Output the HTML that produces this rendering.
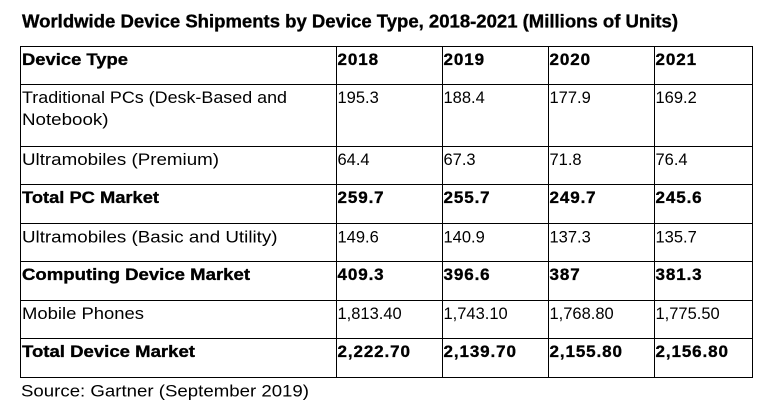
<!DOCTYPE html>
<html><head><meta charset="utf-8"><style>
html,body{margin:0;padding:0;background:#fff;}
svg{display:block;}
text{font-family:"Liberation Sans",Arial,sans-serif;fill:#000;}
.r{font-size:17px;}
.n{font-size:16.5px;}
.b{font-size:17px;font-weight:bold;stroke:#000;stroke-width:0.35px;}
.bn{font-size:17px;font-weight:bold;stroke:#000;stroke-width:0.35px;letter-spacing:0.9px;}
.t{font-size:18px;font-weight:bold;stroke:#000;stroke-width:0.35px;}
</style></head><body>
<svg width="775" height="411" viewBox="0 0 775 411" xmlns="http://www.w3.org/2000/svg">
<rect width="775" height="411" fill="#fff"/>
<text class="t" x="22" y="27.5" textLength="656" lengthAdjust="spacingAndGlyphs">Worldwide Device Shipments by Device Type, 2018-2021 (Millions of Units)</text>
<g stroke="#000" stroke-width="1" fill="none" shape-rendering="crispEdges">
<rect x="20.5" y="46.5" width="732" height="331"/>
<line x1="336.5" y1="46.5" x2="336.5" y2="377.5"/>
<line x1="442.5" y1="46.5" x2="442.5" y2="377.5"/>
<line x1="548.5" y1="46.5" x2="548.5" y2="377.5"/>
<line x1="654.5" y1="46.5" x2="654.5" y2="377.5"/>
<line x1="20.5" y1="84.5" x2="752.5" y2="84.5"/>
<line x1="20.5" y1="146.5" x2="752.5" y2="146.5"/>
<line x1="20.5" y1="184.5" x2="752.5" y2="184.5"/>
<line x1="20.5" y1="223.5" x2="752.5" y2="223.5"/>
<line x1="20.5" y1="261.5" x2="752.5" y2="261.5"/>
<line x1="20.5" y1="300.5" x2="752.5" y2="300.5"/>
<line x1="20.5" y1="338.5" x2="752.5" y2="338.5"/>
</g>
<!-- header -->
<text class="b" x="22" y="65" textLength="106" lengthAdjust="spacingAndGlyphs">Device Type</text>
<text class="bn" x="337.5" y="65">2018</text>
<text class="bn" x="443.5" y="65">2019</text>
<text class="bn" x="549.5" y="65">2020</text>
<text class="bn" x="655.5" y="65">2021</text>
<!-- row 2 -->
<text class="r" x="22" y="103" textLength="265" lengthAdjust="spacingAndGlyphs">Traditional PCs (Desk-Based and</text>
<text class="r" x="22" y="125" textLength="86.5" lengthAdjust="spacingAndGlyphs">Notebook)</text>
<text class="n" x="337.5" y="103">195.3</text>
<text class="n" x="443.5" y="103">188.4</text>
<text class="n" x="549.5" y="103">177.9</text>
<text class="n" x="655.5" y="103">169.2</text>
<!-- row 3 -->
<text class="r" x="22" y="165" textLength="197" lengthAdjust="spacingAndGlyphs">Ultramobiles (Premium)</text>
<text class="n" x="337.5" y="165">64.4</text>
<text class="n" x="443.5" y="165">67.3</text>
<text class="n" x="549.5" y="165">71.8</text>
<text class="n" x="655.5" y="165">76.4</text>
<!-- row 4 -->
<text class="b" x="22" y="203" textLength="137" lengthAdjust="spacingAndGlyphs">Total PC Market</text>
<text class="bn" x="337.5" y="203">259.7</text>
<text class="bn" x="443.5" y="203">255.7</text>
<text class="bn" x="549.5" y="203">249.7</text>
<text class="bn" x="655.5" y="203">245.6</text>
<!-- row 5 -->
<text class="r" x="22" y="242.5" textLength="255.5" lengthAdjust="spacingAndGlyphs">Ultramobiles (Basic and Utility)</text>
<text class="n" x="337.5" y="242.5">149.6</text>
<text class="n" x="443.5" y="242.5">140.9</text>
<text class="n" x="549.5" y="242.5">137.3</text>
<text class="n" x="655.5" y="242.5">135.7</text>
<!-- row 6 -->
<text class="b" x="22" y="280" textLength="228" lengthAdjust="spacingAndGlyphs">Computing Device Market</text>
<text class="bn" x="337.5" y="280">409.3</text>
<text class="bn" x="443.5" y="280">396.6</text>
<text class="bn" x="549.5" y="280">387</text>
<text class="bn" x="655.5" y="280">381.3</text>
<!-- row 7 -->
<text class="r" x="22" y="319" textLength="122" lengthAdjust="spacingAndGlyphs">Mobile Phones</text>
<text class="n" x="337.5" y="319">1,813.40</text>
<text class="n" x="443.5" y="319">1,743.10</text>
<text class="n" x="549.5" y="319">1,768.80</text>
<text class="n" x="655.5" y="319">1,775.50</text>
<!-- row 8 -->
<text class="b" x="22" y="357" textLength="173" lengthAdjust="spacingAndGlyphs">Total Device Market</text>
<text class="bn" x="337.5" y="357">2,222.70</text>
<text class="bn" x="443.5" y="357">2,139.70</text>
<text class="bn" x="549.5" y="357">2,155.80</text>
<text class="bn" x="655.5" y="357">2,156.80</text>
<!-- source -->
<text class="r" x="21" y="396.5" textLength="288" lengthAdjust="spacingAndGlyphs">Source: Gartner (September 2019)</text>
</svg>
</body></html>
